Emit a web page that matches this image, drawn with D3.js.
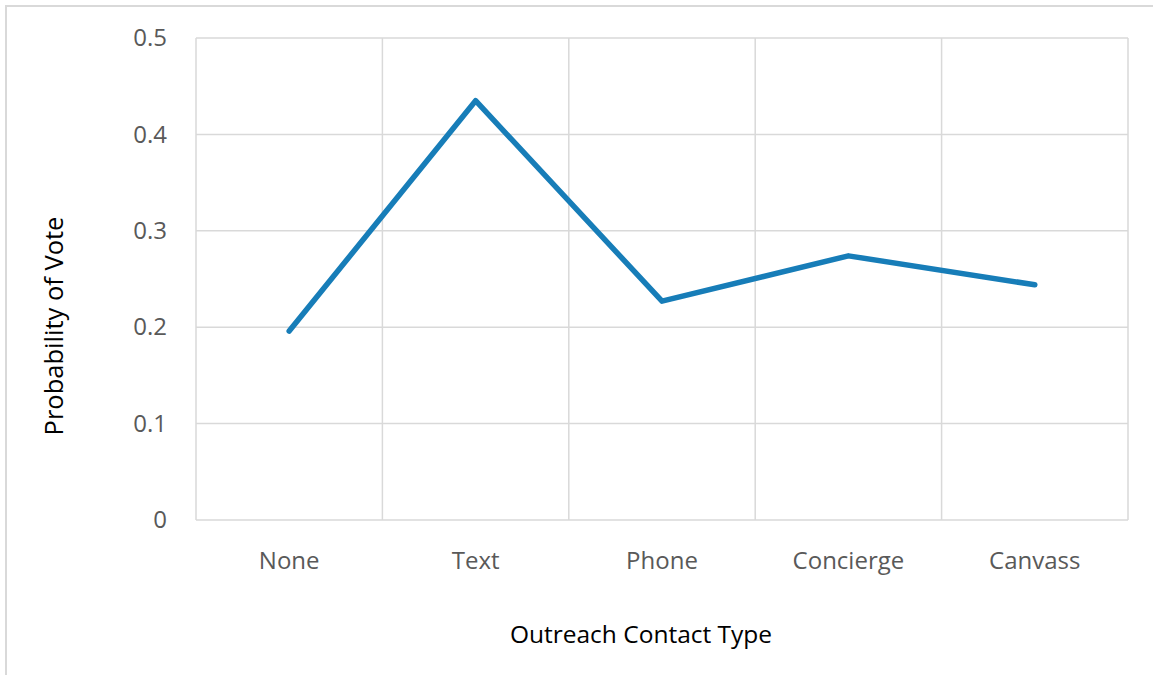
<!DOCTYPE html>
<html>
<head>
<meta charset="utf-8">
<script src="https://cdn.jsdelivr.net/npm/d3@7"></script>
<style>
  html, body { margin: 0; padding: 0; background: #fff; }
  svg { display: block; font-family: "Open Sans", Lato, sans-serif; }
</style>
</head>
<body>
<svg id="chart" width="1153" height="675"></svg>
<script>
// Outreach contact types and the probability of voting for each
const categories = ["None", "Text", "Phone", "Concierge", "Canvass"];
const voteProbability = [0.196, 0.435, 0.227, 0.274, 0.244];
const yTicks = [0, 0.1, 0.2, 0.3, 0.4, 0.5];

const svg = d3.select("#chart");
const W = 1153, H = 675;
const plot = { left: 196, right: 1128, top: 38, bottom: 520 };
const font = "'Open Sans', Lato, sans-serif";

// outer chart frame
svg.append("rect")
  .attr("x", 6).attr("y", 6)
  .attr("width", W + 10).attr("height", H + 10)
  .attr("fill", "#fff")
  .attr("stroke", "#d9d9d9").attr("stroke-width", 2);

const x = d3.scaleBand().domain(categories).range([plot.left, plot.right]).padding(0);
const y = d3.scaleLinear().domain([0, 0.5]).range([plot.bottom, plot.top]);

// horizontal gridlines
svg.append("g")
  .selectAll("line")
  .data(yTicks)
  .join("line")
  .attr("x1", plot.left).attr("x2", plot.right)
  .attr("y1", d => y(d)).attr("y2", d => y(d))
  .attr("stroke", "#d9d9d9").attr("stroke-width", 1.5);

// vertical gridlines at band boundaries
const bounds = categories.map(c => x(c)).concat([x(categories[categories.length - 1]) + x.bandwidth()]);
svg.append("g")
  .selectAll("line")
  .data(bounds)
  .join("line")
  .attr("x1", d => d).attr("x2", d => d)
  .attr("y1", plot.top).attr("y2", plot.bottom)
  .attr("stroke", "#d9d9d9").attr("stroke-width", 1.5);

// y axis tick labels
const yAxis = d3.axisLeft(y).tickValues(yTicks).tickSize(0).tickPadding(29)
  .tickFormat(d => d === 0 ? "0" : d3.format(".1f")(d));
const gy = svg.append("g").attr("transform", `translate(${plot.left},0)`).call(yAxis);
gy.select(".domain").remove();
gy.selectAll("text").attr("fill", "#595959").style("font-size", "24px")
  .style("font-family", font);

// x axis category labels
const xAxis = d3.axisBottom(x).tickSize(0).tickPadding(32);
const gx = svg.append("g").attr("transform", `translate(0,${plot.bottom})`).call(xAxis);
gx.select(".domain").remove();
gx.selectAll("text").attr("fill", "#595959").style("font-size", "24px")
  .style("font-family", font);

// series line
const line = d3.line()
  .x((d, i) => x(categories[i]) + x.bandwidth() / 2)
  .y(d => y(d));
svg.append("path")
  .datum(voteProbability)
  .attr("d", line)
  .attr("fill", "none")
  .attr("stroke", "#177db8")
  .attr("stroke-width", 5.5)
  .attr("stroke-linejoin", "round")
  .attr("stroke-linecap", "round");

// axis titles
svg.append("text")
  .attr("x", 641).attr("y", 643)
  .attr("text-anchor", "middle")
  .attr("fill", "#000").style("font-size", "24.5px")
  .style("font-family", font)
  .text("Outreach Contact Type");

svg.append("text")
  .attr("transform", `translate(63,326) rotate(-90)`)
  .attr("text-anchor", "middle")
  .attr("fill", "#000").style("font-size", "25.5px")
  .style("font-family", font)
  .text("Probability of Vote");
</script>
</body>
</html>
